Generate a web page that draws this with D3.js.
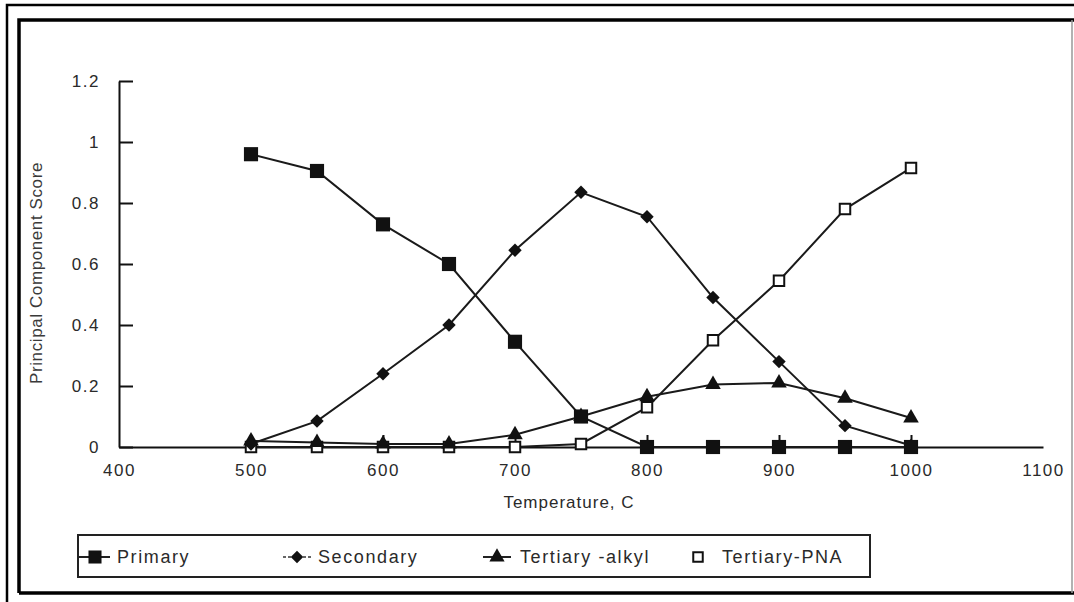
<!DOCTYPE html>
<html>
<head>
<meta charset="utf-8">
<script src="https://cdn.jsdelivr.net/npm/d3@7"></script>
<style>
  body { margin: 0; background: #fff; }
  svg { display: block; }
  text { font-family: "Liberation Sans", Arial, sans-serif; fill: #2a2a2a; }
</style>
</head>
<body>
<div id="chart"></div>
<script>
// temperatures (C)
var temps = [500, 550, 600, 650, 700, 750, 800, 850, 900, 950, 1000];

var primary      = [0.96, 0.905, 0.73, 0.60, 0.345, 0.10, 0, 0, 0, 0, 0];
var secondary    = [0.01, 0.085, 0.24, 0.40, 0.645, 0.835, 0.755, 0.49, 0.28, 0.07, 0.005];
var tertAlkyl    = [0.02, 0.015, 0.01, 0.01, 0.04, 0.10, 0.165, 0.205, 0.21, 0.16, 0.095];
var tertPNA      = [0, 0, 0, 0, 0, 0.01, 0.13, 0.35, 0.545, 0.78, 0.915];

var seriesNames = ["Primary", "Secondary", "Tertiary -alkyl", "Tertiary-PNA"];

var xTicks = [400, 500, 600, 700, 800, 900, 1000, 1100];
var yTicks = [0, 0.2, 0.4, 0.6, 0.8, 1, 1.2];

var W = 1074, H = 602;

var svg = d3.select("#chart").append("svg")
    .attr("width", W)
    .attr("height", H);

// scanned page frame
svg.append("path")
    .attr("d", "M7,602 V5 H1074")
    .attr("fill", "none")
    .attr("stroke", "#000")
    .attr("stroke-width", 2.5);
svg.append("path")
    .attr("d", "M19,593 V20 H1074")
    .attr("fill", "none")
    .attr("stroke", "#000")
    .attr("stroke-width", 3.5);
svg.append("path")
    .attr("d", "M19,593 H1074")
    .attr("fill", "none")
    .attr("stroke", "#000")
    .attr("stroke-width", 3.5);
svg.append("line")
    .attr("x1", 1072).attr("x2", 1072).attr("y1", 20).attr("y2", 593)
    .attr("stroke", "#999")
    .attr("stroke-width", 1.5);

var x = d3.scaleLinear().domain([400, 1100]).range([119, 1043]);
var y = d3.scaleLinear().domain([0, 1.2]).range([447, 81]);

var yAxis = svg.append("g")
    .attr("transform", "translate(" + x(400) + ",0)")
    .call(d3.axisLeft(y)
        .tickValues(yTicks)
        .tickSizeInner(-14)
        .tickSizeOuter(0)
        .tickPadding(19)
        .tickFormat(function (d) { return String(d); }));

var xAxis = svg.append("g")
    .attr("transform", "translate(0," + y(0) + ")")
    .call(d3.axisBottom(x)
        .tickValues(xTicks)
        .tickSizeInner(-12)
        .tickSizeOuter(0)
        .tickPadding(21)
        .tickFormat(function (d) { return String(d); }));

[xAxis, yAxis].forEach(function (a) {
    a.select(".domain").attr("stroke", "#111").attr("stroke-width", 2);
    a.selectAll(".tick line").attr("stroke", "#111").attr("stroke-width", 2);
    a.selectAll(".tick text")
        .attr("fill", "#2a2a2a")
        .style("font-size", "17px")
        .style("letter-spacing", "1.5px")
        .style("font-family", "'Liberation Sans', Arial, sans-serif");
});
xAxis.selectAll(".tick text").attr("dy", "0.45em");
yAxis.selectAll(".tick text").attr("dy", "0.35em");
// no visible tick mark at the axis end
xAxis.selectAll(".tick").filter(function (d) { return d === 1100 || d === 400; })
    .select("line").remove();

// axis titles
svg.append("text")
    .attr("x", 569)
    .attr("y", 508)
    .attr("text-anchor", "middle")
    .style("font-size", "17px")
    .style("letter-spacing", "1px")
    .text("Temperature, C");

svg.append("text")
    .attr("transform", "translate(42,273) rotate(-90)")
    .attr("text-anchor", "middle")
    .style("font-size", "17px")
    .style("letter-spacing", "0.6px")
    .style("fill", "#3a3a3a")
    .text("Principal Component Score");

// series
var series = [
    {name: seriesNames[3], vals: tertPNA,   type: d3.symbolSquare,   size: 110, fill: "#fff", sw: 2},
    {name: seriesNames[2], vals: tertAlkyl, type: d3.symbolTriangle, size: 105, fill: "#111", sw: 0},
    {name: seriesNames[1], vals: secondary, type: d3.symbolDiamond2, size: 115, fill: "#111", sw: 0},
    {name: seriesNames[0], vals: primary,   type: d3.symbolSquare,   size: 200, fill: "#111", sw: 0}
];

var line = d3.line()
    .x(function (d) { return x(d[0]); })
    .y(function (d) { return y(d[1]); });

series.forEach(function (s) {
    var pts = temps.map(function (t, i) { return [t, s.vals[i]]; });
    svg.append("path")
        .datum(pts)
        .attr("fill", "none")
        .attr("stroke", "#1a1a1a")
        .attr("stroke-width", 2)
        .attr("d", line);
});

series.forEach(function (s) {
    var pts = temps.map(function (t, i) { return [t, s.vals[i]]; });
    svg.append("g").selectAll("path")
        .data(pts)
        .enter().append("path")
        .attr("transform", function (d) { return "translate(" + x(d[0]) + "," + y(d[1]) + ")"; })
        .attr("d", d3.symbol().type(s.type).size(s.size))
        .attr("fill", s.fill)
        .attr("stroke", "#111")
        .attr("stroke-width", s.sw);
});

// legend
var legend = svg.append("g");
legend.append("rect")
    .attr("x", 78).attr("y", 535)
    .attr("width", 792).attr("height", 42)
    .attr("fill", "#fff")
    .attr("stroke", "#222")
    .attr("stroke-width", 2);

var legItems = [
    {name: seriesNames[0], mx: 95,  l0: 78,  l1: 110, tx: 117, type: d3.symbolSquare,   size: 170, fill: "#111", sw: 0},
    {name: seriesNames[1], mx: 297, l0: 283, l1: 311, tx: 318, type: d3.symbolDiamond2, size: 100, fill: "#111", sw: 0},
    {name: seriesNames[2], mx: 497, l0: 483, l1: 511, tx: 520, type: d3.symbolTriangle, size: 100, fill: "#111", sw: 0},
    {name: seriesNames[3], mx: 698, l0: 698, l1: 698, tx: 722, type: d3.symbolSquare,   size: 90,  fill: "#fff", sw: 2}
];

legItems.forEach(function (d, i) {
    legend.append("line")
        .attr("x1", d.l0).attr("x2", d.l1)
        .attr("y1", 557).attr("y2", 557)
        .attr("stroke", i === 1 ? "#666" : "#222")
        .attr("stroke-width", 2)
        .attr("stroke-dasharray", i === 1 ? "3,2" : null);
    legend.append("path")
        .attr("transform", "translate(" + d.mx + ",557)")
        .attr("d", d3.symbol().type(d.type).size(d.size))
        .attr("fill", d.fill)
        .attr("stroke", "#111")
        .attr("stroke-width", d.sw);
    legend.append("text")
        .attr("x", d.tx)
        .attr("y", 563)
        .style("font-size", "18px")
        .style("letter-spacing", "1.6px")
        .text(d.name);
});
</script>
</body>
</html>
